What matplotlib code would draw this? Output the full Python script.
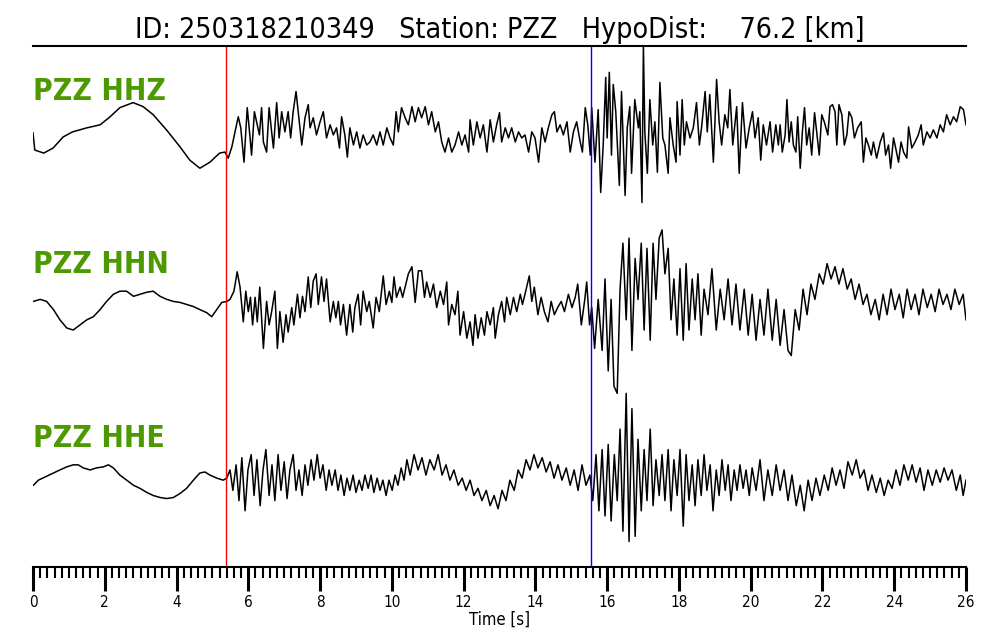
import numpy as np
import matplotlib
matplotlib.use("Agg")
import matplotlib.pyplot as plt

# ---------------- data (time [s], amplitude [counts]) ----------------
station = "PZZ"
event_id = "250318210349"
hypo_dist_km = 76.2
channels = ["HHZ", "HHN", "HHE"]
p_pick = 5.37
s_pick = 15.54
x_ticks = [0, 2, 4, 6, 8, 10, 12, 14, 16, 18, 20, 22, 24, 26]

HHZ = [
    (0.00, 0), (0.05, -17), (0.30, -20), (0.56, -15), (0.84, -4), (1.10, 1), (1.50, 5),
    (1.87, 8), (2.15, 16), (2.42, 25), (2.79, 30), (3.07, 26), (3.35, 18), (3.72, 3),
    (4.10, -14), (4.37, -27), (4.65, -35), (4.93, -29), (5.20, -20), (5.35, -19),
    (5.44, -25), (5.54, -14), (5.63, 1), (5.72, 16), (5.79, 5), (5.88, -29), (5.97, 25),
    (6.05, -5), (6.09, -22), (6.17, 21), (6.23, 11), (6.31, -2), (6.37, 25), (6.42, -9),
    (6.51, -19), (6.58, 25), (6.65, 1), (6.70, -15), (6.79, 30), (6.86, -5), (6.93, 21),
    (7.02, 1), (7.11, 21), (7.18, -5), (7.25, 21), (7.33, 41), (7.39, 21), (7.49, -12),
    (7.58, 15), (7.67, 28), (7.72, 5), (7.81, 15), (7.90, -2), (8.00, 11), (8.09, 21),
    (8.18, -5), (8.28, 8), (8.37, -2), (8.46, 5), (8.54, -15), (8.60, 16), (8.69, -2),
    (8.76, -24), (8.83, 5), (8.93, -12), (9.02, 1), (9.11, -15), (9.20, -2), (9.30, -12),
    (9.39, -9), (9.48, -2), (9.58, -12), (9.67, 1), (9.76, -12), (9.86, 5), (9.95, -5),
    (10.04, -12), (10.12, 21), (10.18, 1), (10.27, 25), (10.37, 15), (10.46, 8),
    (10.56, 26), (10.65, 11), (10.74, 25), (10.83, 15), (10.93, 26), (11.02, 8),
    (11.11, 21), (11.21, 1), (11.30, 11), (11.39, -9), (11.48, -19), (11.58, -5),
    (11.67, -19), (11.76, -12), (11.86, 1), (11.95, -12), (12.04, -2), (12.14, -19),
    (12.18, 13), (12.27, -12), (12.37, 11), (12.46, -5), (12.55, 8), (12.65, -19),
    (12.74, 13), (12.83, -9), (12.92, 8), (13.00, 20), (13.06, -9), (13.16, 5),
    (13.25, -5), (13.34, 5), (13.44, -9), (13.53, 1), (13.62, -5), (13.71, -2),
    (13.81, -19), (13.90, 1), (13.99, -5), (14.09, -29), (14.18, 5), (14.27, -9),
    (14.36, 5), (14.46, 18), (14.53, 21), (14.60, 1), (14.69, 8), (14.78, -2),
    (14.88, 11), (14.97, -19), (15.06, 1), (15.15, 11), (15.25, -9), (15.31, -19),
    (15.39, 25), (15.46, 8), (15.53, -22), (15.57, 25), (15.61, 1), (15.66, -29),
    (15.75, 23), (15.82, -59), (15.89, -12), (15.96, 55), (16.00, -5), (16.06, 60),
    (16.12, -22), (16.17, 48), (16.24, 21), (16.34, -52), (16.40, 41), (16.50, -62),
    (16.56, 5), (16.63, 26), (16.68, -40), (16.77, 33), (16.87, 5), (16.91, 21),
    (16.97, -69), (17.01, 86), (17.05, 1), (17.12, -40), (17.19, 33), (17.27, -12),
    (17.33, 11), (17.40, -39), (17.47, 50), (17.55, -5), (17.61, -12), (17.70, -40),
    (17.75, 15), (17.84, -12), (17.92, -29), (17.95, 31), (18.03, -22), (18.09, 33),
    (18.15, -12), (18.21, 11), (18.31, -5), (18.40, 5), (18.49, 30), (18.57, -12),
    (18.63, 5), (18.73, 41), (18.79, 1), (18.86, 38), (18.96, -29), (19.05, 53),
    (19.12, 11), (19.19, -12), (19.28, 18), (19.36, 5), (19.42, 43), (19.50, -12),
    (19.61, 26), (19.68, -40), (19.77, 30), (19.87, -15), (19.96, 5), (20.05, 21),
    (20.12, -5), (20.21, 15), (20.28, -27), (20.35, 8), (20.44, -12), (20.54, 11),
    (20.61, -19), (20.70, 8), (20.77, -12), (20.82, 8), (20.88, -19), (20.96, -2),
    (21.01, 33), (21.07, -9), (21.13, 11), (21.19, -12), (21.26, -19), (21.31, 16),
    (21.38, -35), (21.44, 1), (21.50, 25), (21.56, -12), (21.63, 5), (21.70, -22),
    (21.78, 20), (21.84, 1), (21.91, -22), (21.98, 18), (22.05, 11), (22.15, -2),
    (22.21, 26), (22.28, 28), (22.35, 21), (22.40, -12), (22.46, 28), (22.54, 18),
    (22.61, -12), (22.68, -2), (22.74, 21), (22.82, 15), (22.89, -5), (22.98, 5),
    (23.08, 11), (23.14, -29), (23.21, -5), (23.28, -12), (23.36, -22), (23.42, -9),
    (23.51, -25), (23.61, -9), (23.70, 0), (23.76, -22), (23.84, -12), (23.90, -35),
    (23.98, -5), (24.04, -15), (24.12, -29), (24.19, -9), (24.26, -19), (24.35, -25),
    (24.40, 6), (24.49, -15), (24.58, -9), (24.67, -2), (24.75, 8), (24.81, -12),
    (24.91, 1), (25.00, -5), (25.09, 3), (25.19, -5), (25.28, 8), (25.37, 1),
    (25.46, 18), (25.56, 8), (25.65, 16), (25.74, 11), (25.84, 26), (25.93, 23),
    (26.00, 8),
]

HHN = [
    (0.01, 5), (0.20, 7), (0.38, 5), (0.57, -3), (0.75, -13), (0.94, -21), (1.12, -23),
    (1.31, -18), (1.50, -13), (1.68, -10), (1.87, -3), (2.05, 5), (2.24, 12), (2.42, 15),
    (2.61, 15), (2.80, 10), (2.98, 12), (3.17, 14), (3.35, 15), (3.54, 10), (3.73, 7),
    (3.91, 5), (4.10, 4), (4.28, 2), (4.47, 0), (4.65, -3), (4.84, -6), (4.98, -10),
    (5.12, -3), (5.26, 4), (5.40, 5), (5.49, 7), (5.60, 15), (5.69, 34), (5.77, 19),
    (5.86, -15), (5.93, 15), (6.00, -5), (6.06, 9), (6.12, -18), (6.19, 9), (6.25, -15),
    (6.32, 19), (6.42, -41), (6.51, 5), (6.58, -18), (6.65, -5), (6.74, 15), (6.81, -41),
    (6.88, -5), (6.97, -35), (7.05, -8), (7.11, -25), (7.21, -1), (7.27, -18), (7.37, 12),
    (7.44, -11), (7.51, 10), (7.58, -5), (7.67, 29), (7.74, -1), (7.81, 25), (7.89, 32),
    (7.95, 2), (8.04, 29), (8.11, 5), (8.18, 27), (8.28, -15), (8.37, 5), (8.44, -11),
    (8.51, 5), (8.57, -18), (8.65, 2), (8.74, -28), (8.83, 2), (8.91, -25), (8.97, -1),
    (9.06, 12), (9.13, -18), (9.20, 15), (9.30, -5), (9.37, 5), (9.48, -21), (9.56, 9),
    (9.65, -5), (9.76, 30), (9.84, 2), (9.93, 15), (10.00, 4), (10.06, 29), (10.13, 9),
    (10.23, 19), (10.30, 9), (10.39, 22), (10.46, 32), (10.56, 39), (10.65, 4),
    (10.74, 35), (10.83, 35), (10.91, 9), (10.97, 24), (11.07, 9), (11.16, 22),
    (11.25, -1), (11.35, 15), (11.44, 2), (11.53, 24), (11.58, -18), (11.67, 2),
    (11.76, -8), (11.84, 15), (11.90, -28), (12.00, -5), (12.09, -31), (12.18, -15),
    (12.26, -38), (12.32, -8), (12.40, -31), (12.49, -11), (12.58, -28), (12.65, -5),
    (12.74, -18), (12.83, -1), (12.88, -31), (12.97, -8), (13.06, 5), (13.14, -15),
    (13.20, 9), (13.30, -8), (13.39, 9), (13.48, -5), (13.58, 12), (13.64, 2),
    (13.73, 15), (13.83, 30), (13.90, 5), (13.97, 19), (14.07, -8), (14.16, 9),
    (14.25, -5), (14.35, -15), (14.44, 5), (14.53, -8), (14.62, -1), (14.72, 5),
    (14.81, -5), (14.92, 12), (15.02, -1), (15.11, 9), (15.18, 22), (15.28, -18),
    (15.37, 5), (15.43, 24), (15.51, -18), (15.57, -1), (15.65, -41), (15.75, 7),
    (15.86, -43), (15.94, 27), (16.03, -63), (16.11, 7), (16.19, -78), (16.28, -85),
    (16.36, 17), (16.44, 62), (16.53, -13), (16.61, 67), (16.69, -43), (16.78, 47),
    (16.86, 7), (16.95, 62), (17.03, -23), (17.11, 57), (17.20, -33), (17.28, 62),
    (17.36, 7), (17.45, 67), (17.53, 75), (17.61, 32), (17.70, 57), (17.78, -13),
    (17.86, 27), (17.95, -28), (18.03, 37), (18.12, -33), (18.20, 42), (18.28, -23),
    (18.37, 27), (18.45, -13), (18.53, 32), (18.62, -28), (18.70, 17), (18.81, -8),
    (18.92, 37), (19.04, -23), (19.15, 17), (19.26, -13), (19.37, 27), (19.48, -18),
    (19.59, 22), (19.70, -23), (19.82, 17), (19.93, -28), (20.04, 12), (20.15, -33),
    (20.26, 7), (20.37, -28), (20.48, 17), (20.60, -33), (20.71, 7), (20.82, -38),
    (20.93, -3), (21.04, -43), (21.13, -48), (21.24, -3), (21.35, -23), (21.46, 17),
    (21.57, -8), (21.68, 22), (21.79, 7), (21.91, 32), (22.02, 22), (22.13, 42),
    (22.24, 27), (22.35, 39), (22.46, 22), (22.57, 37), (22.69, 17), (22.80, 27),
    (22.91, 7), (23.02, 22), (23.13, 2), (23.24, 12), (23.35, -8), (23.47, 7),
    (23.58, -13), (23.69, 12), (23.80, -8), (23.91, 17), (24.02, -3), (24.14, 12),
    (24.25, -11), (24.36, 17), (24.47, -3), (24.58, 12), (24.69, -8), (24.80, 17),
    (24.92, -1), (25.03, 12), (25.14, -5), (25.25, 17), (25.36, 2), (25.47, 12),
    (25.58, -3), (25.69, 17), (25.81, 2), (25.92, 12), (26.00, -13),
]

HHE = [
    (0.01, -5), (0.15, 0), (0.33, 3), (0.57, 7), (0.75, 10), (0.94, 13), (1.12, 15),
    (1.26, 15), (1.40, 12), (1.59, 10), (1.77, 12), (1.96, 13), (2.10, 15), (2.24, 12),
    (2.42, 5), (2.61, 0), (2.80, -5), (2.98, -8), (3.17, -12), (3.35, -15), (3.54, -17),
    (3.73, -18), (3.91, -17), (4.10, -13), (4.28, -8), (4.47, 0), (4.65, 7), (4.79, 8),
    (4.93, 5), (5.12, 2), (5.30, 0), (5.40, 2), (5.49, 10), (5.57, -10), (5.66, 15),
    (5.74, -20), (5.82, 22), (5.91, -30), (5.99, 10), (6.08, 25), (6.16, -15), (6.24, 20),
    (6.33, -25), (6.41, 10), (6.49, 30), (6.58, -15), (6.66, 15), (6.74, -20), (6.83, 25),
    (6.91, -10), (7.00, 18), (7.08, -18), (7.16, 10), (7.25, 25), (7.33, -10), (7.41, 10),
    (7.50, -15), (7.58, 15), (7.66, -5), (7.75, 20), (7.83, 0), (7.92, 25), (8.00, 2),
    (8.08, 15), (8.17, -10), (8.25, 10), (8.33, -5), (8.42, 10), (8.50, -10), (8.58, 5),
    (8.67, -15), (8.75, 2), (8.83, -10), (8.92, 5), (9.00, -12), (9.09, 0), (9.17, -10),
    (9.25, 5), (9.34, -8), (9.42, 5), (9.50, -12), (9.59, 2), (9.67, -10), (9.75, 0),
    (9.84, -15), (9.92, 0), (10.01, -10), (10.09, 5), (10.17, -5), (10.26, 12),
    (10.34, 0), (10.42, 20), (10.51, 5), (10.62, 25), (10.73, 10), (10.84, 22),
    (10.95, 5), (11.06, 20), (11.18, 10), (11.29, 25), (11.40, 5), (11.51, 15),
    (11.62, 0), (11.73, 10), (11.85, -5), (11.96, 2), (12.07, -10), (12.18, 0),
    (12.29, -15), (12.40, -8), (12.51, -20), (12.63, -10), (12.74, -25), (12.85, -15),
    (12.96, -28), (13.07, -10), (13.18, -20), (13.29, 0), (13.41, -10), (13.52, 10),
    (13.63, 2), (13.74, 20), (13.85, 10), (13.96, 25), (14.07, 12), (14.19, 22),
    (14.30, 8), (14.41, 18), (14.52, 2), (14.63, 15), (14.74, 0), (14.86, 12),
    (14.97, -5), (15.08, 10), (15.19, -10), (15.30, 15), (15.41, -5), (15.52, 5),
    (15.60, -20), (15.69, 25), (15.77, -30), (15.86, 30), (15.94, -35), (16.03, 35),
    (16.11, -40), (16.20, 25), (16.28, -20), (16.36, 50), (16.44, -50), (16.53, 85),
    (16.61, -60), (16.69, 70), (16.78, -55), (16.86, 40), (16.95, -30), (17.03, 30),
    (17.11, -20), (17.20, 50), (17.28, -25), (17.36, 20), (17.45, -15), (17.53, 25),
    (17.61, -20), (17.70, 30), (17.78, -30), (17.86, 20), (17.95, -15), (18.03, 30),
    (18.12, -45), (18.20, 25), (18.28, -20), (18.37, 15), (18.45, -25), (18.53, 20),
    (18.62, -15), (18.70, 25), (18.78, -10), (18.87, 15), (18.95, -30), (19.04, 10),
    (19.12, -15), (19.20, 20), (19.29, -10), (19.37, 15), (19.45, -20), (19.54, 10),
    (19.62, -10), (19.70, 15), (19.79, -8), (19.87, 10), (19.96, -15), (20.04, 12),
    (20.15, -10), (20.26, 20), (20.37, -20), (20.48, 10), (20.60, -15), (20.71, 15),
    (20.82, -10), (20.93, 10), (21.04, -20), (21.15, 5), (21.27, -25), (21.38, -5),
    (21.49, -30), (21.60, 0), (21.71, -20), (21.82, 2), (21.93, -15), (22.05, 5),
    (22.16, -10), (22.27, 12), (22.38, -5), (22.49, 10), (22.60, -8), (22.71, 18),
    (22.83, 5), (22.94, 20), (23.05, 2), (23.16, 10), (23.27, -10), (23.38, 5),
    (23.50, -12), (23.61, 2), (23.72, -15), (23.83, 0), (23.94, -8), (24.05, 10),
    (24.16, -5), (24.27, 15), (24.39, 0), (24.50, 15), (24.61, -2), (24.72, 12),
    (24.83, -10), (24.94, 10), (25.06, -5), (25.17, 10), (25.28, -2), (25.39, 12),
    (25.50, 0), (25.61, 10), (25.73, -10), (25.84, 5), (25.92, -15), (26.00, 0),
]

traces = {"HHZ": HHZ, "HHN": HHN, "HHE": HHE}

# ---------------- figure ----------------
plt.rcParams["font.family"] = ["DejaVu Sans"]
fig = plt.figure(figsize=(10, 6.4), dpi=100)
ax = fig.add_axes([0.033, 0.1141, 0.933, 0.8139])

label_color = "#4C9A00"
n = len(channels)
for i, ch in enumerate(channels):
    t, a = zip(*traces[ch])
    t = np.asarray(t, float)
    a = np.asarray(a, float)
    a = a / (2.0 * np.max(np.abs(a)))
    offset = n - 1 - i
    ax.plot(t, a + offset, color="black", lw=1.1)
    ax.text(0.0, offset + 0.24, f"{station} {ch}", color=label_color,
            fontsize=21.5, fontweight="bold", fontstretch="condensed",
            ha="left", va="center")

ax.axvline(p_pick, color="red", lw=1.0)
ax.axvline(s_pick, color="blue", lw=1.0)

ax.set_xlim(0, 26)
ax.set_ylim(-0.5, n - 0.5)
ax.set_yticks([])
for s in ["left", "right"]:
    ax.spines[s].set_visible(False)
ax.spines["top"].set_linewidth(1.5)
ax.spines["bottom"].set_linewidth(1.5)

ax.set_xticks(x_ticks)
ax.set_xticks(np.arange(0, 26.01, 0.2), minor=True)
ax.tick_params(axis="x", which="major", length=17, width=2.2, labelsize=11, pad=3)
ax.tick_params(axis="x", which="minor", length=8, width=1.5)
for lab in ax.get_xticklabels():
    lab.set_fontstretch("condensed")
ax.set_xlabel("Time [s]", fontsize=12, labelpad=1, fontstretch="condensed")

ax.set_title(f"ID: {event_id}   Station: {station}   HypoDist:    {hypo_dist_km:.1f} [km]",
             fontsize=20.5, pad=6, fontstretch="condensed")

fig.savefig("out.png", dpi=100)
